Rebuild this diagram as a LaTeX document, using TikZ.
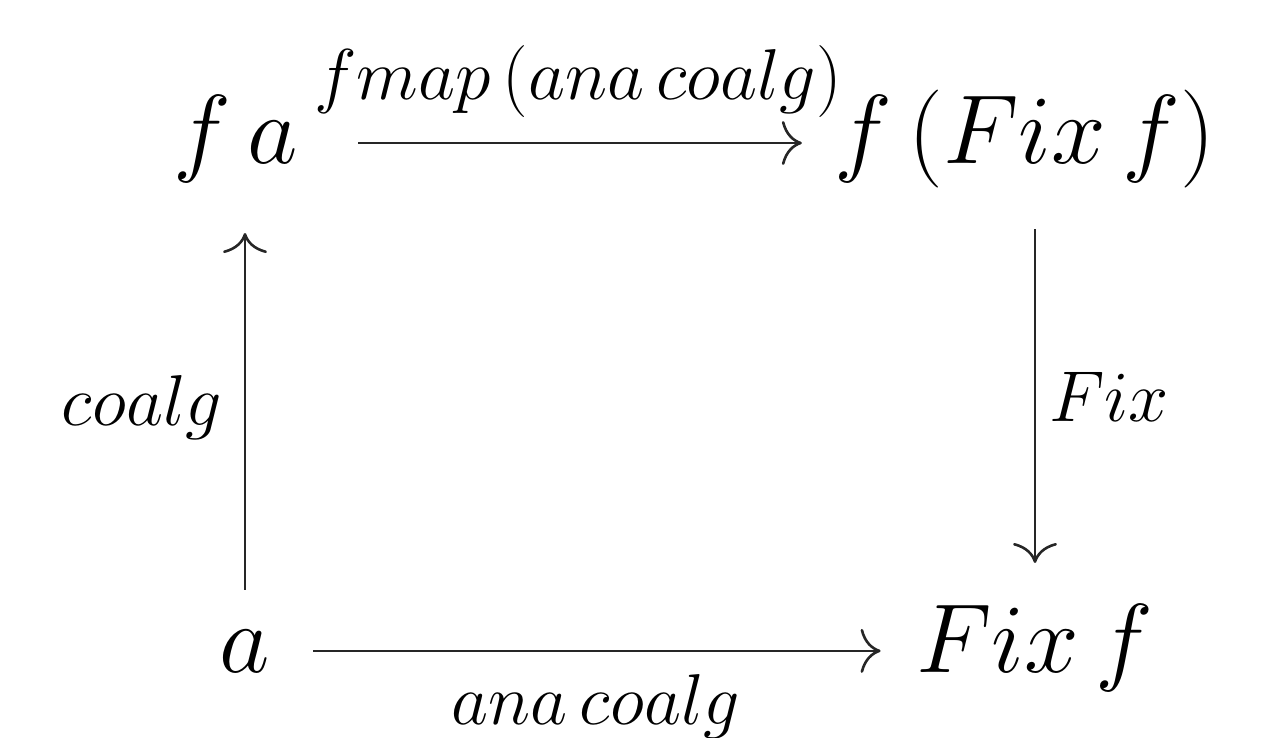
\documentclass[tikz,border=0pt]{standalone}
\usepackage{fix-cm}
\usetikzlibrary{arrows.meta}
\begin{document}
\begin{tikzpicture}[x=1pt,y=-1pt,
  obj/.style={inner sep=0pt,outer sep=0pt,anchor=base,font=\fontsize{98}{110}\selectfont},
  lbl/.style={inner sep=0pt,outer sep=0pt,anchor=base,font=\fontsize{72}{80}\selectfont},
  arr/.style={line width=2.6pt,draw=black!85,-{Computer Modern Rightarrow[length=20pt,width=44pt]}}]
\useasboundingbox (0,0) rectangle (1261,737);
% objects
\node[obj] (fa)   at (236,163)  {$f\,a$};
\node[obj] (ffix) at (1025,163) {$f\,(Fix\,f)$};
\node[obj] (a)    at (245,672)  {$a$};
\node[obj] (fixf) at (1035,672) {$Fix\,f$};
% labels
\node[lbl] (ltop)   at (578,99)   {$fmap\,(ana\,coalg)$};
\node[lbl] (lleft)  at (142,425)  {$coalg$};
\node[lbl] (lright) at (1109,421) {$Fix$};
\node[lbl] (lbot)   at (596,724)  {$ana\,coalg$};
% arrows
\draw[arr,shorten <=60pt,shorten >=33pt] ([yshift=-4.5pt]fa.east) -- ([yshift=-4.5pt]fa.east -| ffix.west);
\draw[arr,shorten <=40pt,shorten >=51pt] (a.north) -- (a.north |- fa.south);
\draw[arr,shorten <=42pt,shorten >=41pt] (ffix.south -| fixf.north) -- (fixf.north);
\draw[arr,shorten <=43pt,shorten >=36pt] (a.east) -- (a.east -| fixf.west);
\end{tikzpicture}
\end{document}
